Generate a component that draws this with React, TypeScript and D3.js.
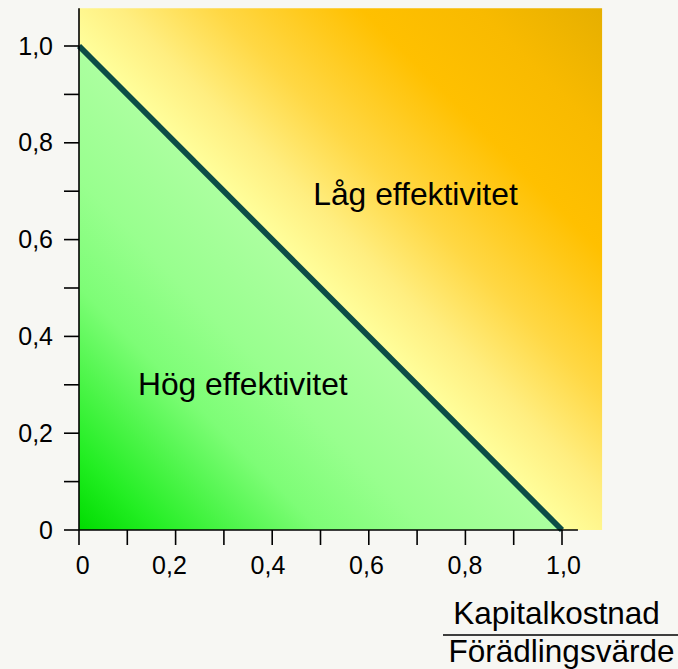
import React from "react";
import * as d3 from "d3";

// Data
const boundaryX = [0, 1];
const boundaryY = [1, 0];
const xTicks = [0, 0.1, 0.2, 0.3, 0.4, 0.5, 0.6, 0.7, 0.8, 0.9, 1.0];
const yTicks = [0, 0.1, 0.2, 0.3, 0.4, 0.5, 0.6, 0.7, 0.8, 0.9, 1.0];
const xTickLabels = ["0", "", "0,2", "", "0,4", "", "0,6", "", "0,8", "", "1,0"];
const yTickLabels = ["0", "", "0,2", "", "0,4", "", "0,6", "", "0,8", "", "1,0"];
const regionLabels = [
  { text: "Låg effektivitet", x: 0.485, y: 0.672 },
  { text: "Hög effektivitet", x: 0.122, y: 0.279 },
];
const titleTop = "Kapitalkostnad";
const titleBottom = "Förädlingsvärde";
const extentMax = { x: 1.083, y: 1.078, xAxis: 1.033 };

const W = 678;
const H = 669;
const FONT = "'Liberation Sans', Arial, sans-serif";

export default function App() {
  const x = d3.scaleLinear().domain([0, 1]).range([79, 562]);
  const y = d3.scaleLinear().domain([0, 1]).range([530, 46]);
  // x tick labels sit on a slightly different spacing than the ticks
  const xl = d3.scaleLinear().domain([0, 1]).range([71, 563.5]);

  const x0 = x(0), x1 = x(extentMax.x);
  const y0 = y(0), y1 = y(extentMax.y);

  const s = (a: number, b: number) => (a + b) / (extentMax.x + extentMax.y);
  const lineOff = s(0.5, 0.5);

  const stops: [number, string][] = [
    [0, "#00dc00"],
    [s(0.08, 0.08), "#22ee22"],
    [s(0.25, 0.25), "#7dfd76"],
    [s(0.36, 0.36), "#98ff8e"],
    [lineOff, "#acffa0"],
    [lineOff, "#ffff9c"],
    [s(0.58, 0.58), "#ffee80"],
    [s(0.68, 0.68), "#ffd845"],
    [s(0.83, 0.83), "#ffc000"],
    [s(0.95, 0.95), "#f8ba00"],
    [1, "#e6af00"],
  ];

  const line = d3
    .line<number>()
    .x((_, i) => x(boundaryX[i]))
    .y((_, i) => y(boundaryY[i]));

  return (
    <svg
      width={W}
      height={H}
      style={{ position: "absolute", left: 0, top: 0, display: "block", background: "#f7f7f3" }}
    >
      <defs>
        <linearGradient id="bg" gradientUnits="userSpaceOnUse" x1={x0} y1={y0} x2={x1} y2={y1}>
          {stops.map(([o, c], i) => (
            <stop key={i} offset={o} stopColor={c} />
          ))}
        </linearGradient>
      </defs>
      <rect x={0} y={0} width={W} height={H} fill="#f7f7f3" />
      <rect x={x0} y={y1} width={x1 - x0} height={y0 - y1} fill="url(#bg)" />

      <path d={line(boundaryX) || ""} fill="none" stroke="#0c4d46" strokeWidth={5.8} />

      {/* axes */}
      <g stroke="#000" strokeWidth={1.6}>
        <line x1={x0} x2={x0} y1={y1} y2={y0} />
        <line x1={x0} x2={x(extentMax.xAxis)} y1={y0} y2={y0} />
        {yTicks.map((t) => (
          <line key={"yt" + t} x1={x0 - 15} x2={x0} y1={y(t)} y2={y(t)} />
        ))}
        {xTicks.map((t) => (
          <line key={"xt" + t} x1={x(t)} x2={x(t)} y1={y0} y2={y0 + 15} />
        ))}
      </g>

      <g fontFamily={FONT} fontSize={25} fill="#000">
        {yTicks.map((t, i) =>
          yTickLabels[i] ? (
            <text key={"yl" + t} x={53} y={y(t) + 8.5} textAnchor="end">
              {yTickLabels[i]}
            </text>
          ) : null
        )}
        {xTicks.map((t, i) =>
          xTickLabels[i] ? (
            <text
              key={"xl" + t}
              x={xTickLabels[i].length === 1 ? x(t) + 3.7 : xl(t)}
              y={574}
              textAnchor="middle"
            >
              {xTickLabels[i]}
            </text>
          ) : null
        )}
      </g>

      <g fontFamily={FONT} fontSize={31.8} fill="#000">
        {regionLabels.map((r) => (
          <text key={r.text} x={x(r.x)} y={y(r.y)}>
            {r.text}
          </text>
        ))}
      </g>

      <g fontFamily={FONT} fontSize={31.5} fill="#000">
        <text x={556.5} y={624} textAnchor="middle">{titleTop}</text>
        <line x1={443} x2={678} y1={635} y2={635} stroke="#000" strokeWidth={1.6} />
        <text x={561.5} y={662} textAnchor="middle">{titleBottom}</text>
      </g>
    </svg>
  );
}
